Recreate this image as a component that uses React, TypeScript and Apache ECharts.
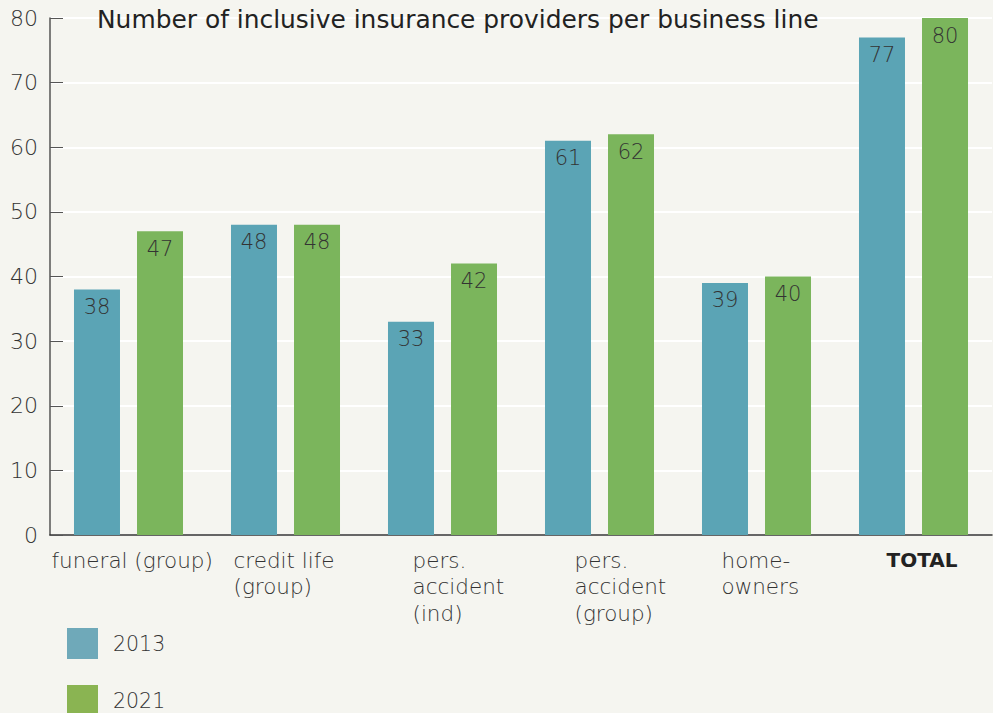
import React, { useEffect, useRef } from "react";
import * as echarts from "echarts";

const categories = [
  "funeral (group)",
  "credit life\n(group)",
  "pers.\naccident\n(ind)",
  "pers.\naccident\n(group)",
  "home-\nowners",
  "TOTAL",
];
const labelShift = [-77, -52, -30, -25, -35, -27];
const values2013 = [38, 48, 33, 61, 39, 77];
const values2021 = [47, 48, 42, 62, 40, 80];
const yTicks = { min: 0, max: 80, interval: 10 };

const FONT = "DejaVu Sans";
const LIGHT = 200;
const BLUE = "#5ba4b5";
const GREEN = "#7bb55c";

export default function App() {
  const ref = useRef<HTMLDivElement>(null);
  useEffect(() => {
    document.body.style.margin = "0";
    const chart = echarts.init(ref.current!, undefined, { renderer: "svg" });
    const legendText = { fontFamily: FONT, fontSize: 20.5, fontWeight: LIGHT, color: "#333", padding: [0, 0, 0, 10] };
    const barLabel = { show: true, position: "insideTop", distance: 7, fontFamily: FONT, fontSize: 21, fontWeight: LIGHT, color: "#333" };
    chart.setOption({
      animation: false,
      backgroundColor: "#f5f5f0",
      textStyle: { fontFamily: FONT },
      title: {
        text: "Number of inclusive insurance providers per business line",
        left: 97,
        top: 7,
        padding: 0,
        textStyle: { fontFamily: FONT, fontSize: 24.9, fontWeight: "normal", color: "#222" },
      },
      legend: [
        {
          left: 67,
          top: 628,
          padding: 0,
          itemWidth: 31,
          itemHeight: 31,
          icon: "rect",
          textStyle: legendText,
          data: [{ name: "2013", itemStyle: { color: "#6fa9b9" } }],
        },
        {
          left: 67,
          top: 685,
          padding: 0,
          itemWidth: 31,
          itemHeight: 31,
          icon: "rect",
          textStyle: legendText,
          data: [{ name: "2021", itemStyle: { color: "#8ab452" } }],
        },
      ],
      grid: { left: 50, right: 1, top: 18, bottom: 178, containLabel: false },
      xAxis: {
        type: "category",
        data: categories.map((c, i) => ({
          value: c,
          textStyle: {
            align: "left",
            verticalAlign: "top",
            padding: [0, 0, 0, labelShift[i]],
            fontFamily: FONT,
            fontSize: c === "TOTAL" ? 20 : 21.5,
            lineHeight: 26.5,
            fontWeight: c === "TOTAL" ? "bold" : LIGHT,
            color: c === "TOTAL" ? "#222" : "#333",
          },
        })),
        axisLine: { lineStyle: { color: "#333", width: 1.5 } },
        axisTick: { inside: true, length: 13, lineStyle: { color: "#333", width: 1 } },
        axisLabel: {
          interval: 0,
          align: "left",
          verticalAlign: "top",
          margin: 12,
          fontFamily: FONT,
          fontSize: 21.5,
          lineHeight: 26.5,
          color: "#333",
        },
      },
      yAxis: {
        type: "value",
        min: yTicks.min,
        max: yTicks.max,
        interval: yTicks.interval,
        axisLine: { show: true, lineStyle: { color: "#555", width: 1.5 } },
        axisTick: { show: true, inside: true, length: 13, lineStyle: { color: "#555" } },
        splitLine: { lineStyle: { color: "#ffffff", width: 2 } },
        axisLabel: { fontFamily: FONT, fontSize: 22, fontWeight: LIGHT, color: "#333", margin: 12 },
      },
      series: [
        {
          name: "2013",
          type: "bar",
          data: values2013,
          barWidth: 46,
          barGap: "37%",
          itemStyle: { color: BLUE },
          label: barLabel,
        },
        {
          name: "2021",
          type: "bar",
          data: values2021,
          barWidth: 46,
          itemStyle: { color: GREEN },
          label: barLabel,
        },
      ],
    });
    return () => chart.dispose();
  }, []);
  return <div ref={ref} style={{ width: 993, height: 713 }} />;
}
